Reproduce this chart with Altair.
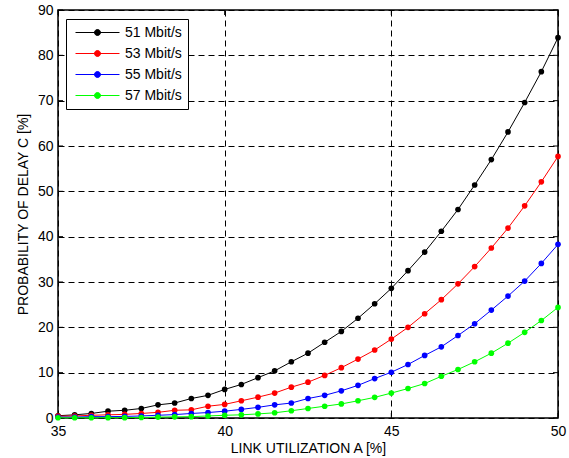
import altair as alt
import pandas as pd

x_vals = [35 + 0.5 * i for i in range(31)]

series_names = ["51 Mbit/s", "53 Mbit/s", "55 Mbit/s", "57 Mbit/s"]
series_colors = ["#000000", "#ff0000", "#0000ff", "#00ff00"]

y_51 = [0.5, 0.7, 1.0, 1.5, 1.7, 2.1, 2.9, 3.3, 4.3, 5.0, 6.3, 7.4, 8.9, 10.4, 12.4, 14.3,
        16.7, 19.1, 22.0, 25.2, 28.6, 32.5, 36.6, 41.2, 46.0, 51.4, 57.0, 63.1, 69.6, 76.4, 83.9]
y_53 = [0.4, 0.45, 0.6, 0.7, 0.8, 1.0, 1.25, 1.7, 1.8, 2.6, 3.0, 3.8, 4.6, 5.5, 6.8, 7.9,
        9.4, 11.1, 13.0, 15.0, 17.4, 20.0, 23.0, 26.1, 29.6, 33.4, 37.5, 41.9, 46.8, 52.1, 57.7]
y_55 = [0.2, 0.2, 0.3, 0.3, 0.35, 0.45, 0.6, 0.75, 1.0, 1.2, 1.5, 1.9, 2.35, 2.9, 3.3, 4.3,
        5.0, 6.0, 7.2, 8.7, 10.1, 11.8, 13.8, 15.7, 18.2, 20.8, 23.8, 26.9, 30.2, 34.1, 38.3]
y_57 = [0.05, 0.05, 0.05, 0.07, 0.08, 0.1, 0.2, 0.25, 0.3, 0.45, 0.6, 0.7, 0.9, 1.15, 1.6, 2.1,
        2.6, 3.1, 3.8, 4.55, 5.5, 6.5, 7.6, 9.2, 10.7, 12.4, 14.3, 16.5, 18.9, 21.5, 24.4]

x_ticks = [35, 40, 45, 50]
y_ticks = [0, 10, 20, 30, 40, 50, 60, 70, 80, 90]

rows = []
for name, ys in zip(series_names, [y_51, y_53, y_55, y_57]):
    for i, (xv, yv) in enumerate(zip(x_vals, ys)):
        rows.append({"A": xv, "C": yv, "series": name, "order": i})
df = pd.DataFrame(rows)

W, H = 500, 408
FONT = "Liberation Sans"

# legend symbol: a line with a dot in its middle (path units scaled by 7 px)
legend_symbol = ("M-0.571,0H5.714"
                 "M3.0,0A0.43,0.43,0,1,1,2.14,0A0.43,0.43,0,1,1,3.0,0Z")

xscale = alt.Scale(domain=[35, 50], nice=False, zero=False)
yscale = alt.Scale(domain=[0, 90], nice=False, zero=False)
color = alt.Color(
    "series:N",
    scale=alt.Scale(domain=series_names, range=series_colors),
    legend=alt.Legend(
        title=None,
        orient="none",
        legendX=8,
        legendY=9,
        symbolType=legend_symbol,
        symbolSize=196,
        symbolStrokeWidth=1,
        labelFont=FONT,
        labelFontSize=14,
        labelColor="#000000",
        labelOffset=38,
        rowPadding=6,
        padding=6,
        strokeColor="#000000",
        fillColor="#ffffff",
    ),
)

x_axis = alt.Axis(
    values=x_ticks, grid=True, gridDash=[6, 4], gridColor="#000000", gridOpacity=1,
    ticks=False, domain=False, labelFont=FONT, labelFontSize=14, labelColor="#000000",
    labelPadding=6, title="LINK UTILIZATION A [%]", titleFont=FONT, titleFontSize=14,
    titleFontWeight="normal", titleColor="#000000", titlePadding=3, labelFlush=False,
)
y_axis = alt.Axis(
    values=y_ticks, grid=True, gridDash=[6, 4], gridColor="#000000", gridOpacity=1,
    ticks=False, domain=False, labelFont=FONT, labelFontSize=14, labelColor="#000000",
    labelPadding=5, title="PROBABILITY OF DELAY C [%]", titleFont=FONT, titleFontSize=14,
    titleFontWeight="normal", titleColor="#000000", titlePadding=7, labelFlush=False,
)

base = alt.Chart(df)
lines = base.mark_line(strokeWidth=1, clip=False).encode(
    x=alt.X("A:Q", scale=xscale, axis=x_axis),
    y=alt.Y("C:Q", scale=yscale, axis=y_axis),
    color=color,
    detail="series:N",
    order="order:Q",
)
points = base.mark_circle(size=32, opacity=1, clip=False).encode(
    x=alt.X("A:Q", scale=xscale),
    y=alt.Y("C:Q", scale=yscale),
    color=color,
)

xt = pd.DataFrame({"A": x_ticks})
yt = pd.DataFrame({"C": y_ticks})
tick_bottom = alt.Chart(xt).mark_rule(color="#000000", strokeWidth=1).encode(
    x=alt.X("A:Q", scale=xscale), y=alt.value(H), y2=alt.value(H - 5))
tick_top = alt.Chart(xt).mark_rule(color="#000000", strokeWidth=1).encode(
    x=alt.X("A:Q", scale=xscale), y=alt.value(0), y2=alt.value(5))
tick_left = alt.Chart(yt).mark_rule(color="#000000", strokeWidth=1).encode(
    y=alt.Y("C:Q", scale=yscale), x=alt.value(0), x2=alt.value(5))
tick_right = alt.Chart(yt).mark_rule(color="#000000", strokeWidth=1).encode(
    y=alt.Y("C:Q", scale=yscale), x=alt.value(W), x2=alt.value(W - 5))

chart = alt.layer(tick_bottom, tick_top, tick_left, tick_right, lines, points).properties(
    width=W,
    height=H,
    autosize=alt.AutoSizeParams(type="none"),
    padding={"left": 58, "top": 10, "right": 11, "bottom": 40},
    background="#ffffff",
).configure_view(
    stroke="#000000", strokeWidth=1.5
)

chart.save("out.html", embed_options={"renderer": "svg", "actions": False})
